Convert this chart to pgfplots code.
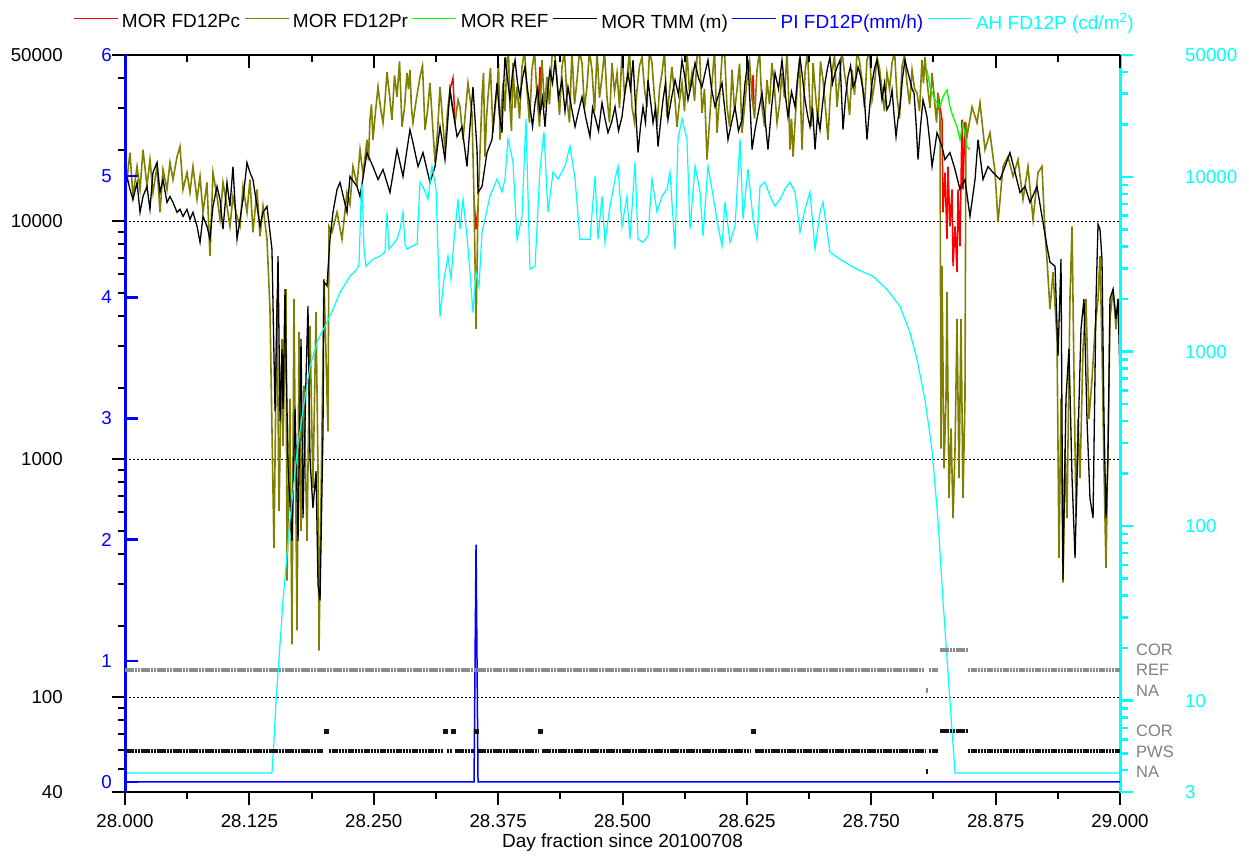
\documentclass[border=0pt]{standalone}
\usepackage{pgfplots}
\pgfplotsset{compat=1.18}
\usepackage{fontspec}
\setmainfont{Liberation Sans}
\definecolor{morred}{RGB}{255,0,0}
\definecolor{morolive}{RGB}{128,128,0}
\definecolor{morgreen}{RGB}{0,255,0}
\definecolor{piblue}{RGB}{0,0,255}
\definecolor{ahcyan}{RGB}{0,255,255}
\definecolor{stgray}{RGB}{140,140,140}
\definecolor{stlabel}{RGB}{128,128,128}
\definecolor{stblack}{RGB}{20,20,20}
\pgfplotsset{
  common/.style={at={(125pt,65pt)}, anchor=south west, scale only axis,
    width=995pt, height=737pt, xmin=28, xmax=29},
  every tick label/.append style={font=\fontsize{18.7}{22}\selectfont},
}
\begin{document}
\begin{tikzpicture}
\useasboundingbox (0,0) rectangle (1249pt,857pt);
% ---------------- MOR axis (left, log) ----------------
\begin{axis}[common, ymode=log, ymin=40, ymax=50000,
  axis line style={line width=2pt},
  tick align=outside, xtick pos=left, ytick pos=left,
  xtick={28,28.125,28.25,28.375,28.5,28.625,28.75,28.875,29},
  xticklabels={28.000,28.125,28.250,28.375,28.500,28.625,28.750,28.875,29.000},
  minor x tick num=1,
  ytick={40,100,1000,10000,50000}, yticklabels={40,100,1000,10000,50000},
  minor ytick={50,60,70,80,90,200,300,400,500,600,700,800,900,2000,3000,4000,5000,6000,7000,8000,9000,20000,30000,40000},
  major tick length=13pt, minor tick length=7pt,
  tick style={black, line width=2pt},
  xticklabel style={anchor=north, inner sep=0pt, yshift=-9pt},
  yticklabel style={anchor=east, inner sep=0pt, xshift=-49pt},
  xlabel={Day fraction since 20100708},
  xlabel style={font=\fontsize{19}{22}\selectfont, at={(axis description cs:0.5,0)}, anchor=center, yshift=-51pt, inner sep=0pt},
]
\addplot[black, line width=0.8pt, dash pattern=on 2pt off 2pt] coordinates {(28,10000)(29,10000)};
\addplot[black, line width=0.8pt, dash pattern=on 2pt off 2pt] coordinates {(28,1000)(29,1000)};
\addplot[black, line width=0.8pt, dash pattern=on 2pt off 2pt] coordinates {(28,100)(29,100)};
% MOR FD12Pc (red) where it differs from FD12Pr
\addplot[morred, line width=1.5pt] coordinates {(28.3266,35670)(28.3296,40000)(28.3317,25960)};
\addplot[morred, line width=1.5pt] coordinates {(28.3508,12360)(28.3528,9260)(28.3548,11560)};
\addplot[morred, line width=1.5pt] coordinates {(28.4151,29420)(28.4171,44520)(28.4181,29420)};
\addplot[morred, line width=1.5pt] coordinates {(28.6302,32390)(28.6312,41220)(28.6322,31000)};
\addplot[morred, line width=1.5pt] coordinates {(28.8171,34650)(28.8211,26720)(28.8221,10910)(28.8241,16030)(28.8261,8410)(28.8271,16990)(28.8291,9530)(28.8312,13610)(28.8322,6480)(28.8342,9530)(28.8362,6120)(28.8372,13610)(28.8392,7860)(28.8412,26720)(28.8422,13610)(28.8442,25960)(28.8452,25960)};
% MOR FD12Pr (olive)
\addplot[morolive, line width=1.6pt] coordinates {(28.0000,16000)(28.0020,14990)(28.0050,19440)(28.0080,12720)(28.0121,16990)(28.0151,13610)(28.0181,20010)(28.0221,14010)(28.0251,18170)(28.0281,13220)(28.0322,16990)(28.0352,10910)(28.0382,16510)(28.0422,13610)(28.0452,17650)(28.0482,14990)(28.0523,18710)(28.0553,20600)(28.0583,13610)(28.0623,16030)(28.0653,13220)(28.0683,16990)(28.0724,12360)(28.0754,15430)(28.0784,10910)(28.0824,14560)(28.0854,7140)(28.0884,16030)(28.0925,12720)(28.0955,10190)(28.0985,14560)(28.1025,11560)(28.1055,9530)(28.1085,12720)(28.1126,10490)(28.1156,9530)(28.1186,14010)(28.1226,10910)(28.1256,14990)(28.1286,8995)(28.1327,13610)(28.1357,8650)(28.1387,11560)(28.1427,8410)(28.1457,4280)(28.1497,424)(28.1528,4720)(28.1548,606)(28.1578,3210)(28.1588,1140)(28.1618,5190)(28.1628,309)(28.1658,1800)(28.1678,167)(28.1698,4720)(28.1729,191)(28.1749,3430)(28.1769,500)(28.1799,2040)(28.1829,454)(28.1859,3640)(28.1889,756)(28.1920,4160)(28.1940,891)(28.1950,157)(28.1980,1390)(28.2000,5720)(28.2040,1310)(28.2050,9530)(28.2080,8995)(28.2131,10910)(28.2181,8410)(28.2231,13220)(28.2261,11780)(28.2291,16990)(28.2332,14290)(28.2362,20010)(28.2392,15730)(28.2432,22030)(28.2447,18000)(28.2462,26720)(28.2477,31000)(28.2492,22030)(28.2518,29000)(28.2543,36720)(28.2568,30000)(28.2593,25960)(28.2613,32000)(28.2633,42430)(28.2658,34000)(28.2683,26720)(28.2709,41000)(28.2734,33340)(28.2759,47000)(28.2784,24980)(28.2809,30000)(28.2834,42030)(28.2849,36000)(28.2864,43250)(28.2879,30000)(28.2894,25960)(28.2930,33000)(28.2965,40440)(28.2990,45000)(28.3015,24270)(28.3040,29000)(28.3065,38160)(28.3090,26000)(28.3116,17650)(28.3141,24000)(28.3166,36720)(28.3191,27000)(28.3216,20010)(28.3241,29000)(28.3266,35670)(28.3291,30000)(28.3317,25960)(28.3332,29000)(28.3347,32390)(28.3367,30290)(28.3397,22030)(28.3447,38160)(28.3487,28580)(28.3508,12360)(28.3528,3530)(28.3548,11560)(28.3588,33340)(28.3603,42000)(28.3618,18710)(28.3633,27000)(28.3648,33340)(28.3673,44000)(28.3698,23570)(28.3719,30000)(28.3739,35670)(28.3754,46000)(28.3769,22030)(28.3784,30000)(28.3799,38160)(28.3819,29000)(28.3839,47600)(28.3854,52000)(28.3869,30290)(28.3884,24000)(28.3899,46280)(28.3920,30000)(28.3940,36720)(28.3965,27000)(28.3990,44520)(28.4015,52000)(28.4040,35670)(28.4065,26000)(28.4090,43250)(28.4116,52000)(28.4141,33340)(28.4166,25000)(28.4191,47600)(28.4216,30000)(28.4241,40440)(28.4266,31000)(28.4291,49000)(28.4317,52000)(28.4342,39280)(28.4367,28000)(28.4392,44520)(28.4417,52000)(28.4442,32390)(28.4467,26000)(28.4492,52000)(28.4518,31000)(28.4543,39280)(28.4568,52000)(28.4593,46280)(28.4618,30000)(28.4643,36720)(28.4668,52000)(28.4693,43250)(28.4719,29000)(28.4744,52000)(28.4769,33000)(28.4794,40440)(28.4819,52000)(28.4844,33340)(28.4869,26000)(28.4894,46280)(28.4920,35000)(28.4945,42030)(28.4970,30000)(28.4995,52000)(28.5020,34000)(28.5045,39280)(28.5070,52000)(28.5095,30290)(28.5121,26000)(28.5146,35670)(28.5171,45000)(28.5196,49000)(28.5221,36000)(28.5246,30290)(28.5271,52000)(28.5296,46280)(28.5322,33000)(28.5347,24980)(28.5372,36000)(28.5397,42030)(28.5422,52000)(28.5447,27500)(28.5472,35000)(28.5497,44520)(28.5523,34000)(28.5548,24980)(28.5573,32000)(28.5598,38160)(28.5623,29000)(28.5648,52000)(28.5673,35000)(28.5698,42030)(28.5724,32000)(28.5749,49000)(28.5774,52000)(28.5799,28580)(28.5824,36000)(28.5849,18170)(28.5874,26000)(28.5899,38160)(28.5925,52000)(28.5950,23570)(28.5975,33000)(28.6000,49000)(28.6025,52000)(28.6050,30290)(28.6076,25000)(28.6101,43250)(28.6126,29000)(28.6151,35670)(28.6176,46000)(28.6201,23570)(28.6226,30000)(28.6251,39280)(28.6277,47000)(28.6302,33340)(28.6327,27000)(28.6352,43250)(28.6377,52000)(28.6402,30290)(28.6427,25000)(28.6452,39280)(28.6477,31000)(28.6502,46280)(28.6528,36000)(28.6553,25960)(28.6578,31000)(28.6603,42030)(28.6628,33000)(28.6653,52000)(28.6668,35000)(28.6683,20010)(28.6699,27000)(28.6714,18710)(28.6734,26000)(28.6754,35670)(28.6779,48000)(28.6804,20010)(28.6819,30000)(28.6834,42030)(28.6859,52000)(28.6884,30290)(28.6900,25000)(28.6915,46280)(28.6940,34000)(28.6965,25960)(28.6990,47000)(28.7015,39280)(28.7040,30000)(28.7065,22030)(28.7086,33000)(28.7106,42030)(28.7131,50000)(28.7156,30290)(28.7181,40000)(28.7206,52000)(28.7231,42000)(28.7256,35670)(28.7282,28000)(28.7307,43250)(28.7332,34000)(28.7357,52000)(28.7382,47000)(28.7407,39280)(28.7432,30000)(28.7457,47600)(28.7483,52000)(28.7508,32390)(28.7533,38000)(28.7558,49000)(28.7583,44000)(28.7608,35670)(28.7633,29000)(28.7658,42030)(28.7684,36000)(28.7709,46280)(28.7734,52000)(28.7759,33340)(28.7784,27000)(28.7809,44520)(28.7834,50000)(28.7859,38160)(28.7885,31000)(28.7910,43250)(28.7935,36000)(28.7960,34650)(28.7985,29000)(28.8010,47600)(28.8025,38000)(28.8040,49000)(28.8055,41000)(28.8070,35670)(28.8091,30000)(28.8111,42030)(28.8126,36000)(28.8141,30290)(28.8156,26000)(28.8171,34650)(28.8191,26720)(28.8201,1110)(28.8211,6480)(28.8231,917)(28.8251,1800)(28.8261,5050)(28.8281,687)(28.8302,1350)(28.8322,566)(28.8342,1110)(28.8362,3890)(28.8382,833)(28.8402,3890)(28.8422,687)(28.8442,1800)(28.8452,25960)(28.8462,22690)(28.8513,30290)(28.8563,25960)(28.8593,31470)(28.8643,20010)(28.8693,23570)(28.8744,16030)(28.8774,9900)(28.8824,16990)(28.8874,18710)(28.8925,15430)(28.8975,18170)(28.9025,12360)(28.9075,16990)(28.9126,10190)(28.9176,16030)(28.9216,16990)(28.9246,8995)(28.9266,6930)(28.9296,4280)(28.9327,6120)(28.9367,3210)(28.9387,385)(28.9407,1800)(28.9427,303)(28.9447,1110)(28.9467,566)(28.9497,4720)(28.9518,9530)(28.9538,2180)(28.9558,566)(28.9578,1480)(28.9598,833)(28.9628,2910)(28.9658,4720)(28.9688,1480)(28.9719,2180)(28.9749,3530)(28.9779,4720)(28.9799,7140)(28.9819,2910)(28.9839,917)(28.9859,350)(28.9879,1110)(28.9899,3890)(28.9930,5190)(28.9960,3530)(28.9980,4720)(29.0000,3210)};
% MOR REF (green)
\addplot[morgreen, line width=1.3pt] coordinates {(28.8060,43250)(28.8090,36720)(28.8141,32390)(28.8191,30290)(28.8221,33340)(28.8261,35670)(28.8291,30290)(28.8322,27500)(28.8362,24980)(28.8392,22030)(28.8422,25960)(28.8462,20600)(28.8492,20010)};
% MOR TMM (black)
\addplot[black, line width=1.3pt] coordinates {(28.0000,13000)(28.0020,15430)(28.0050,13610)(28.0080,12360)(28.0121,14560)(28.0151,10910)(28.0181,12720)(28.0221,14010)(28.0251,11230)(28.0281,16030)(28.0322,17650)(28.0352,13220)(28.0382,14990)(28.0422,12010)(28.0452,12720)(28.0482,12010)(28.0523,10910)(28.0553,11230)(28.0583,10490)(28.0623,11230)(28.0653,10190)(28.0683,10910)(28.0724,9530)(28.0754,8170)(28.0784,10490)(28.0824,9530)(28.0854,8410)(28.0884,11560)(28.0925,14010)(28.0955,12360)(28.0985,9260)(28.1025,14560)(28.1055,11560)(28.1085,16990)(28.1126,8410)(28.1156,10190)(28.1186,12360)(28.1226,17650)(28.1256,16030)(28.1286,14990)(28.1327,11560)(28.1357,9530)(28.1387,10910)(28.1427,11560)(28.1477,7630)(28.1508,1590)(28.1538,7140)(28.1558,1440)(28.1578,2910)(28.1588,1630)(28.1608,5190)(28.1638,944)(28.1678,454)(28.1709,1630)(28.1739,454)(28.1769,3210)(28.1789,566)(28.1819,2180)(28.1839,4410)(28.1859,1010)(28.1889,624)(28.1920,891)(28.1940,297)(28.1960,255)(28.1990,1310)(28.2000,5560)(28.2030,5350)(28.2060,8410)(28.2090,10910)(28.2131,13610)(28.2161,14560)(28.2231,10910)(28.2261,15430)(28.2332,14010)(28.2362,12720)(28.2432,19440)(28.2492,16990)(28.2543,14990)(28.2593,16510)(28.2663,13220)(28.2734,20010)(28.2794,15430)(28.2864,24270)(28.2894,21410)(28.2945,16990)(28.2995,19440)(28.3065,14560)(28.3116,16990)(28.3166,24980)(28.3216,18170)(28.3266,35670)(28.3337,22690)(28.3387,24980)(28.3437,16990)(28.3497,36720)(28.3538,20010)(28.3548,13220)(28.3588,14010)(28.3638,19440)(28.3688,22030)(28.3739,38160)(28.3764,28000)(28.3789,23570)(28.3804,36000)(28.3819,49000)(28.3844,40000)(28.3869,32390)(28.3895,42000)(28.3920,47600)(28.3945,38000)(28.3970,33340)(28.3995,40000)(28.4020,44520)(28.4045,36000)(28.4070,30290)(28.4096,25000)(28.4121,31470)(28.4146,36000)(28.4171,28580)(28.4196,33000)(28.4221,24980)(28.4246,35000)(28.4271,43250)(28.4297,38000)(28.4322,47600)(28.4357,33000)(28.4392,39280)(28.4422,29000)(28.4452,36720)(28.4488,30000)(28.4523,24980)(28.4558,29000)(28.4593,33340)(28.4633,27000)(28.4673,22690)(28.4699,30000)(28.4724,27500)(28.4759,24000)(28.4794,31470)(28.4824,27000)(28.4854,23570)(28.4890,26000)(28.4925,30290)(28.4960,24000)(28.4995,27500)(28.5025,35000)(28.5055,42030)(28.5080,36000)(28.5106,47600)(28.5131,30000)(28.5156,19440)(28.5181,25000)(28.5206,30290)(28.5231,26000)(28.5256,39280)(28.5282,32000)(28.5307,25960)(28.5332,30000)(28.5357,20600)(28.5382,26000)(28.5407,32390)(28.5432,38000)(28.5457,26720)(28.5493,33000)(28.5528,39280)(28.5563,34000)(28.5598,47600)(28.5628,40000)(28.5658,32390)(28.5694,38000)(28.5729,46280)(28.5764,40000)(28.5799,36720)(28.5829,42000)(28.5859,47600)(28.5895,36000)(28.5930,30290)(28.5965,34000)(28.6000,38160)(28.6030,29000)(28.6060,22030)(28.6096,26000)(28.6131,30290)(28.6166,24000)(28.6201,26720)(28.6231,38000)(28.6261,47600)(28.6282,31000)(28.6302,20010)(28.6332,24270)(28.6367,29000)(28.6402,34650)(28.6432,27000)(28.6462,20010)(28.6498,30000)(28.6533,42030)(28.6568,36000)(28.6603,47600)(28.6633,35000)(28.6663,27500)(28.6699,35000)(28.6734,30290)(28.6759,40000)(28.6784,49000)(28.6809,40000)(28.6834,32390)(28.6859,28000)(28.6884,24980)(28.6910,30000)(28.6935,20010)(28.6960,28000)(28.6985,24270)(28.7010,31000)(28.7035,38160)(28.7060,44000)(28.7085,49000)(28.7111,38000)(28.7136,42030)(28.7161,45000)(28.7186,47600)(28.7216,24270)(28.7241,33000)(28.7266,40440)(28.7292,45000)(28.7317,36720)(28.7342,39000)(28.7367,44520)(28.7392,41000)(28.7417,35670)(28.7437,30000)(28.7457,22030)(28.7483,30000)(28.7508,38160)(28.7533,44000)(28.7558,47600)(28.7583,40000)(28.7608,32390)(28.7633,38000)(28.7658,29420)(28.7684,31000)(28.7709,35670)(28.7729,28000)(28.7749,22690)(28.7769,27000)(28.7789,30290)(28.7814,40000)(28.7839,47600)(28.7864,43000)(28.7889,39280)(28.7910,36000)(28.7930,34650)(28.7950,26000)(28.7970,18170)(28.7995,25000)(28.8020,32390)(28.8040,30000)(28.8060,27500)(28.8086,22000)(28.8111,16990)(28.8136,20000)(28.8161,23570)(28.8211,20600)(28.8241,18170)(28.8291,19440)(28.8342,16510)(28.8392,13610)(28.8442,14990)(28.8492,10490)(28.8543,14990)(28.8573,22030)(28.8623,14990)(28.8673,16990)(28.8724,16030)(28.8794,14990)(28.8844,16990)(28.8894,19440)(28.8945,16030)(28.8995,13220)(28.9045,14010)(28.9095,12010)(28.9166,14010)(28.9226,9900)(28.9266,7860)(28.9296,6740)(28.9347,6480)(28.9377,2720)(28.9407,6930)(28.9427,312)(28.9457,1800)(28.9487,2910)(28.9518,833)(28.9548,385)(28.9578,1220)(28.9608,3530)(28.9638,4720)(28.9668,1480)(28.9698,687)(28.9729,566)(28.9759,4720)(28.9779,9710)(28.9799,9260)(28.9819,6930)(28.9839,1480)(28.9859,566)(28.9879,1010)(28.9899,4720)(28.9930,5190)(28.9960,3890)(28.9980,4720)(29.0000,2180)};
\end{axis}
% ---------------- AH axis (right, log, cyan) ----------------
\begin{axis}[common, ymode=log, ymin=3, ymax=50000,
  axis x line=none, axis y line*=right,
  y axis line style={ahcyan, line width=3pt, -},
  tick align=outside,
  ytick={3,10,100,1000,10000,50000}, yticklabels={3,10,100,1000,10000,50000},
  minor ytick={4,5,6,7,8,9,20,30,40,50,60,70,80,90,200,300,400,500,600,700,800,900,2000,3000,4000,5000,6000,7000,8000,9000,20000,30000,40000},
  major tick length=13pt, minor tick length=8pt,
  y tick style={ahcyan, line width=2.5pt},
  yticklabel style={ahcyan, anchor=west, inner sep=0pt, xshift=52pt},
]
\addplot[ahcyan, line width=1.2pt] coordinates {(28.0000,3.86)(28.1477,3.86)(28.1497,5.89)(28.1518,10)(28.1538,14.3)(28.1588,37.5)(28.1658,108)(28.1729,263)(28.1789,465)(28.1859,820)(28.1940,1172)(28.2030,1468)(28.2111,1864)(28.2161,2184)(28.2261,2700)(28.2332,2960)(28.2352,3160)(28.2372,7470)(28.2382,9120)(28.2402,3860)(28.2422,3080)(28.2492,3380)(28.2563,3520)(28.2613,3710)(28.2633,6300)(28.2653,3860)(28.2693,4120)(28.2734,4400)(28.2764,5030)(28.2794,6300)(28.2814,4120)(28.2834,3860)(28.2884,4010)(28.2935,4120)(28.2965,9360)(28.3005,8530)(28.3045,7470)(28.3085,11570)(28.3126,8530)(28.3166,1588)(28.3206,2597)(28.3246,3520)(28.3276,2597)(28.3307,4400)(28.3347,7470)(28.3367,5030)(28.3397,7470)(28.3437,4580)(28.3467,2845)(28.3497,1674)(28.3528,2845)(28.3558,2365)(28.3588,4830)(28.3618,5740)(28.3668,7780)(28.3739,9740)(28.3789,8200)(28.3819,9740)(28.3849,16530)(28.3899,12200)(28.3940,4400)(28.3990,5970)(28.4030,21550)(28.4070,2960)(28.4121,3080)(28.4171,11130)(28.4211,18140)(28.4251,6300)(28.4302,10690)(28.4352,9740)(28.4422,11570)(28.4472,15070)(28.4523,9740)(28.4573,4400)(28.4623,4400)(28.4673,4400)(28.4724,10140)(28.4754,4400)(28.4794,7780)(28.4824,4230)(28.4874,6820)(28.4925,9740)(28.4955,11570)(28.4995,5230)(28.5045,7780)(28.5075,4400)(28.5126,12200)(28.5156,4400)(28.5206,4230)(28.5256,4580)(28.5296,9740)(28.5347,6300)(28.5397,7780)(28.5447,8530)(28.5477,10690)(28.5528,3860)(28.5558,16530)(28.5598,21550)(28.5648,16530)(28.5678,5030)(28.5729,11570)(28.5779,8200)(28.5809,4580)(28.5859,11570)(28.5910,7780)(28.5960,5230)(28.6000,4010)(28.6030,7190)(28.6080,4230)(28.6131,5230)(28.6181,16530)(28.6211,5740)(28.6261,11130)(28.6312,5740)(28.6352,4400)(28.6382,8880)(28.6432,9360)(28.6482,7780)(28.6533,6820)(28.6583,7470)(28.6633,8530)(28.6683,9360)(28.6734,8200)(28.6784,4830)(28.6834,6550)(28.6884,8200)(28.6935,3860)(28.6985,6300)(28.7015,7190)(28.7085,3710)(28.7186,3380)(28.7357,2960)(28.7518,2700)(28.7658,2270)(28.7789,1815)(28.7889,1285)(28.7960,900)(28.8040,530)(28.8111,273)(28.8171,108)(28.8221,37.5)(28.8291,10)(28.8342,3.86)(29.0000,3.86)};
\end{axis}
% ---------------- PI axis (left, linear, blue) ----------------
\begin{axis}[common, ymin=-0.0826, ymax=6,
  axis x line*=top, axis y line*=left,
  x axis line style={black, line width=2pt, -},
  y axis line style={piblue, line width=3pt, -},
  tick align=inside,
  xtick={28,28.125,28.25,28.375,28.5,28.625,28.75,28.875,29}, xticklabels={},
  minor x tick num=1,
  ytick={0,1,2,3,4,5,6}, yticklabels={0,1,2,3,4,5,6},
  major tick length=13pt, minor tick length=7pt,
  x tick style={black, line width=2pt},
  y tick style={piblue, line width=2.5pt},
  yticklabel style={piblue, anchor=east, inner sep=0pt, xshift=-13pt},
]
\addplot[piblue, line width=1.5pt] coordinates {(28.0000,0)(28.3508,0)(28.3528,1.96)(28.3548,0)(29.0000,0)};
\end{axis}
% ---------------- status axis ----------------
\begin{axis}[common, ymin=0, ymax=36.3,
  axis x line=none, axis y line*=right,
  y axis line style={draw=none},
  ytick={1,2,3,5,6,7}, yticklabels={NA,PWS,COR,NA,REF,COR},
  major tick length=0pt, y tick style={draw=none},
  yticklabel style={stlabel, anchor=west, inner sep=0pt, xshift=16pt, font=\fontsize{16.5}{19}\selectfont},
  legend columns=6,
  legend style={at={(-0.0523,1.0448)}, anchor=west, draw=none, fill=none,
    inner sep=0pt, outer sep=0pt, column sep=3.8pt,
    font=\fontsize{19}{22}\selectfont, nodes={inner sep=0pt}},
  legend image code/.code={\draw[#1] (0pt,3.5pt) -- (44pt,3.5pt);},
]
\addlegendimage{morred, line width=1.2pt}
\addlegendimage{morolive, line width=1.2pt}
\addlegendimage{morgreen, line width=1.2pt}
\addlegendimage{black, line width=1.2pt}
\addlegendimage{piblue, line width=1.2pt}
\addlegendimage{ahcyan, line width=1.2pt}
% REF row (gray)
\addplot[stgray, line width=4pt, dash pattern=on 2.5pt off 0.7pt, forget plot] coordinates {(28.0000,6)(28.8040,6)};
\addplot[stgray, line width=4pt, dash pattern=on 2.5pt off 0.7pt, forget plot] coordinates {(28.8080,6)(28.8171,6)};
\addplot[stgray, line width=4pt, dash pattern=on 2.5pt off 0.7pt, forget plot] coordinates {(28.8472,6)(29.0000,6)};
\addplot[stgray, line width=4pt, dash pattern=on 2.5pt off 0.7pt, forget plot] coordinates {(28.8191,7)(28.8472,7)};
\addplot[stgray, only marks, mark=|, mark size=2.5pt, line width=1.5pt, forget plot] coordinates {(28.8060,5)};
% PWS row (black)
\addplot[stblack, line width=4pt, dash pattern=on 2.5pt off 0.7pt, forget plot] coordinates {(28.0000,2)(28.1990,2)};
\addplot[stblack, line width=4pt, dash pattern=on 2.5pt off 0.7pt, forget plot] coordinates {(28.2050,2)(28.3196,2)};
\addplot[stblack, line width=4pt, dash pattern=on 2.5pt off 0.7pt, forget plot] coordinates {(28.3236,2)(28.3286,2)};
\addplot[stblack, line width=4pt, dash pattern=on 2.5pt off 0.7pt, forget plot] coordinates {(28.3317,2)(28.3508,2)};
\addplot[stblack, line width=4pt, dash pattern=on 2.5pt off 0.7pt, forget plot] coordinates {(28.3538,2)(28.4151,2)};
\addplot[stblack, line width=4pt, dash pattern=on 2.5pt off 0.7pt, forget plot] coordinates {(28.4191,2)(28.6291,2)};
\addplot[stblack, line width=4pt, dash pattern=on 2.5pt off 0.7pt, forget plot] coordinates {(28.6332,2)(28.8040,2)};
\addplot[stblack, line width=4pt, dash pattern=on 2.5pt off 0.7pt, forget plot] coordinates {(28.8080,2)(28.8171,2)};
\addplot[stblack, line width=4pt, dash pattern=on 2.5pt off 0.7pt, forget plot] coordinates {(28.8472,2)(29.0000,2)};
\addplot[stblack, line width=4pt, dash pattern=on 2.5pt off 0.7pt, forget plot] coordinates {(28.8191,3)(28.8472,3)};
\addplot[stblack, only marks, mark=square*, mark size=2pt, forget plot] coordinates {(28.2020,3)(28.3216,3)(28.3296,3)(28.3528,3)(28.4171,3)(28.6312,3)};
\addplot[stblack, only marks, mark=|, mark size=2.5pt, line width=1.5pt, forget plot] coordinates {(28.8060,1)};
\legend{MOR FD12Pc, MOR FD12Pr, MOR REF, MOR TMM (m), \textcolor{piblue}{PI FD12P(mm/h)}, \textcolor{ahcyan}{AH FD12P (cd/m\textsuperscript{2})}}
\end{axis}
\end{tikzpicture}
\end{document}
